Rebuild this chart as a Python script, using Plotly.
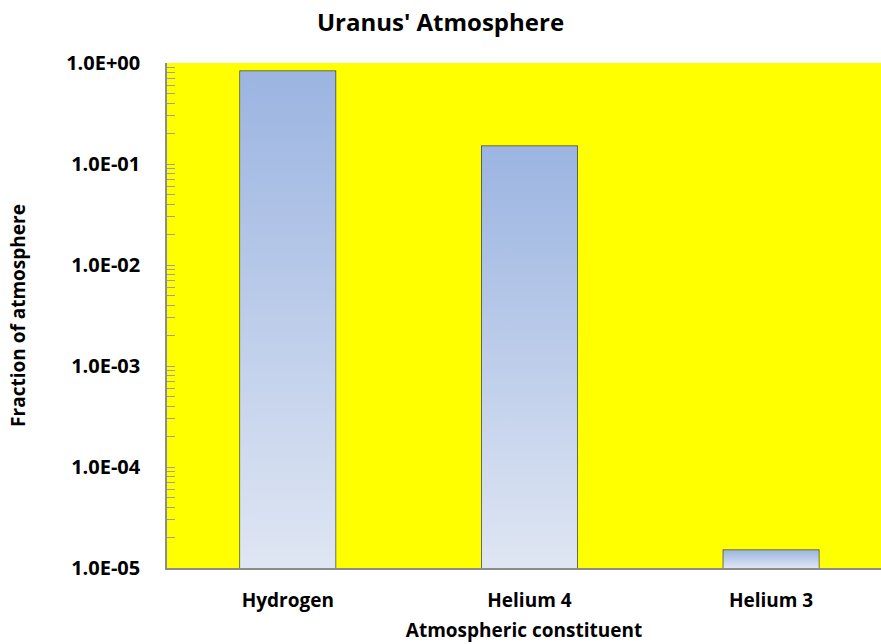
import plotly.graph_objects as go

constituents = ["Hydrogen", "Helium 4", "Helium 3"]
fractions = [0.83, 0.15, 1.5e-5]

tick_vals = [1e0, 1e-1, 1e-2, 1e-3, 1e-4, 1e-5]
tick_text = ["1.0E+00", "1.0E-01", "1.0E-02", "1.0E-03", "1.0E-04", "1.0E-05"]

y_floor = 1e-5
bar_w = 0.395
font_family = "'Open Sans', Lato, sans-serif"

fig = go.Figure()

# gradient fill for each bar (dark blue on top, pale at the bottom)
for i, v in enumerate(fractions):
    x0, x1 = i - bar_w / 2, i + bar_w / 2
    fig.add_trace(go.Scatter(
        x=[x0, x1, x1, x0, x0],
        y=[y_floor, y_floor, v, v, y_floor],
        mode="lines",
        line=dict(width=0),
        fill="toself",
        fillgradient=dict(
            type="vertical",
            colorscale=[[0, "#DFE6F3"], [1, "#9BB4E1"]],
        ),
        hoverinfo="skip",
        showlegend=False,
    ))

# outline of the bars
fig.add_trace(go.Bar(
    x=list(range(len(constituents))),
    y=fractions,
    width=bar_w,
    marker=dict(color="rgba(0,0,0,0)", line=dict(color="#27303D", width=1.3)),
    hovertemplate="%{y:.2e}<extra></extra>",
    showlegend=False,
))

fig.update_layout(
    width=881,
    height=644,
    margin=dict(l=167, r=0, t=63, b=76),
    paper_bgcolor="white",
    plot_bgcolor="#FFFF00",
    font=dict(family=font_family, color="black"),
    title=dict(
        text="<b>Uranus' Atmosphere</b>",
        x=0.5, xanchor="center",
        y=0.965, yanchor="middle",
        font=dict(size=24, family=font_family),
    ),
    xaxis=dict(
        range=[-0.5, 2.455],
        tickvals=list(range(len(constituents))),
        ticktext=["<b>%s</b>" % c for c in constituents],
        tickfont=dict(size=19),
        ticks="",
        ticklabelstandoff=14,
        showgrid=False,
        zeroline=False,
        showline=True,
        linecolor="#8C8C8C",
        linewidth=1.5,
        title=dict(text="<b>Atmospheric constituent</b>", font=dict(size=19), standoff=12),
    ),
    yaxis=dict(
        type="log",
        range=[-5, 0],
        tickvals=tick_vals,
        ticktext=["<b>%s</b>" % t for t in tick_text],
        tickfont=dict(size=20),
        ticks="inside",
        ticklen=8,
        tickcolor="#A0A0A0",
        ticklabelstandoff=21,
        minor=dict(ticks="inside", ticklen=8, tickcolor="#A0A0A0", dtick="D1", showgrid=False),
        showgrid=False,
        zeroline=False,
        showline=True,
        linecolor="#8C8C8C",
        linewidth=1.5,
        title=dict(text="<b>Fraction of atmosphere</b>", font=dict(size=19), standoff=36),
    ),
)

fig.write_html(
    "out.html",
    config={"displayModeBar": False},
    post_script="document.body.style.margin='0';document.body.style.overflow='hidden';",
)
